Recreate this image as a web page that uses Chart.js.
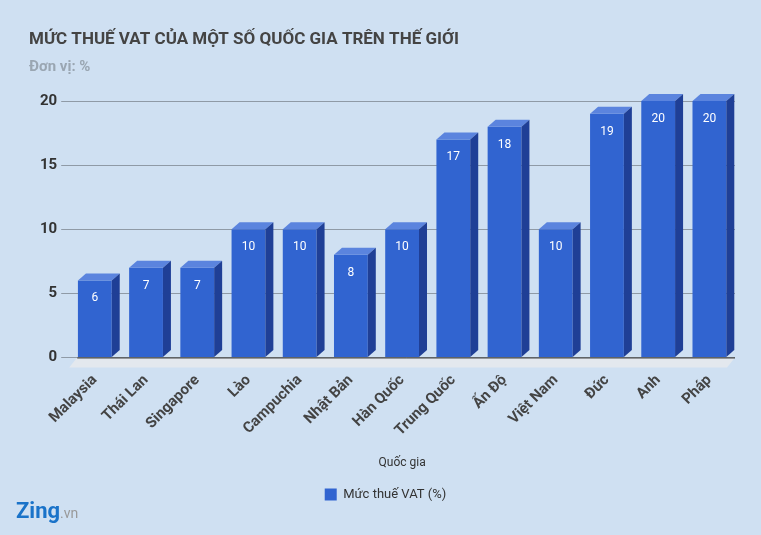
<!DOCTYPE html>
<html>
<head>
<meta charset="utf-8">
<script src="https://cdn.jsdelivr.net/npm/chart.js@4"></script>
<style>
  body { margin: 0; background: #cfe0f2; }
  #wrap { position: relative; width: 761px; height: 535px; }
  .zing { position: absolute; left: 16px; bottom: 12px; font: bold 22px Roboto, sans-serif; color: #1a73c9; }
  .zing span { font-weight: normal; font-size: 14px; color: #999; }
</style>
</head>
<body>
<div id="wrap">
  <canvas id="c" width="761" height="535"></canvas>
  <div class="zing">Zing<span>.vn</span></div>
</div>
<script>
const countries = ['Malaysia', 'Thái Lan', 'Singapore', 'Lào', 'Campuchia', 'Nhật Bản', 'Hàn Quốc',
  'Trung Quốc', 'Ấn Độ', 'Việt Nam', 'Đức', 'Anh', 'Pháp'];
const vatRates = [6, 7, 7, 10, 10, 8, 10, 17, 18, 10, 19, 20, 20];
const yTicks = [0, 5, 10, 15, 20];
const titleText = 'MỨC THUẾ VAT CỦA MỘT SỐ QUỐC GIA TRÊN THẾ GIỚI';
const subtitleText = 'Đơn vị: %';

const DX = 8, DY = -7;

// title, floor under bars, 3D top and side faces, value labels
const bars3d = {
  id: 'bars3d',
  beforeDatasetsDraw(chart) {
    const { ctx, chartArea } = chart;
    const y0 = chart.scales.y.getPixelForValue(0);
    ctx.save();
    ctx.fillStyle = '#e3e8ee';
    ctx.beginPath();
    ctx.moveTo(chartArea.left, y0 + 10);
    ctx.lineTo(chartArea.right - 8, y0 + 10);
    ctx.lineTo(chartArea.right, y0);
    ctx.lineTo(chartArea.left + 8, y0);
    ctx.closePath();
    ctx.fill();
    ctx.strokeStyle = '#222';
    ctx.lineWidth = 1;
    ctx.beginPath();
    ctx.moveTo(chartArea.left + 8, y0 + 0.5);
    ctx.lineTo(chartArea.right, y0 + 0.5);
    ctx.stroke();
    ctx.restore();
  },
  afterDatasetsDraw(chart) {
    const { ctx } = chart;
    const meta = chart.getDatasetMeta(0);
    ctx.save();
    meta.data.forEach((bar, i) => {
      const l = bar.x - bar.width / 2, r = bar.x + bar.width / 2;
      const t = bar.y, b = bar.base;
      ctx.fillStyle = '#5b84de';
      ctx.beginPath();
      ctx.moveTo(l, t); ctx.lineTo(r, t); ctx.lineTo(r + DX, t + DY); ctx.lineTo(l + DX, t + DY);
      ctx.closePath(); ctx.fill();
      ctx.fillStyle = '#1f3f96';
      ctx.beginPath();
      ctx.moveTo(r, t); ctx.lineTo(r + DX, t + DY); ctx.lineTo(r + DX, b + DY); ctx.lineTo(r, b);
      ctx.closePath(); ctx.fill();
      ctx.fillStyle = '#fff';
      ctx.font = '12px Roboto, sans-serif';
      ctx.textAlign = 'center';
      ctx.fillText(String(vatRates[i]), bar.x, t + 18);
    });
    ctx.restore();
  },
  afterDraw(chart) {
    const { ctx } = chart;
    ctx.save();
    ctx.textBaseline = 'alphabetic';
    ctx.textAlign = 'left';
    ctx.fillStyle = '#444';
    ctx.font = 'bold 17px Roboto, sans-serif';
    ctx.fillText(titleText, 29, 44);
    ctx.fillStyle = '#9aa6b2';
    ctx.font = 'bold 15px Roboto, sans-serif';
    ctx.fillText(subtitleText, 29, 71);
    ctx.restore();
  }
};

new Chart(document.getElementById('c'), {
  type: 'bar',
  data: {
    labels: countries,
    datasets: [{
      label: 'Mức thuế VAT (%)',
      data: vatRates,
      backgroundColor: '#3164d0',
      categoryPercentage: 0.66,
      barPercentage: 1,
    }]
  },
  options: {
    responsive: false,
    animation: false,
    layout: { padding: { left: 36, right: 26, top: 101, bottom: 24 } },
    plugins: {
      legend: {
        position: 'bottom',
        labels: { color: '#333', font: { family: 'Roboto', size: 13 }, boxWidth: 12, boxHeight: 12, padding: 14 }
      },
      tooltip: { enabled: false }
    },
    scales: {
      x: {
        grid: { display: false },
        border: { display: false },
        ticks: { color: '#444', font: { family: 'Roboto', size: 15, weight: 'bold' }, maxRotation: 45, minRotation: 45, padding: 6 },
        title: { display: true, text: 'Quốc gia', color: '#333', font: { family: 'Roboto', size: 12 }, padding: { top: 10 } }
      },
      y: {
        min: 0, max: 20,
        afterBuildTicks: (axis) => { axis.ticks = yTicks.map(v => ({ value: v })); },
        grid: { color: '#8f9aa6' },
        border: { display: false },
        ticks: { color: '#333', font: { family: 'Roboto', size: 15, weight: 'bold' }, padding: 4 }
      }
    }
  },
  plugins: [bars3d]
});
</script>
</body>
</html>
